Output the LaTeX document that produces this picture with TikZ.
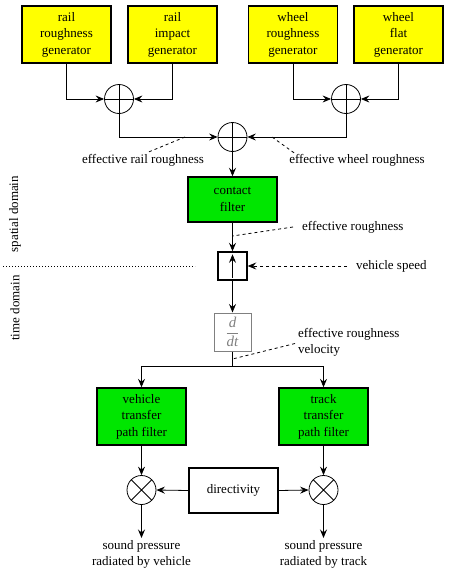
\documentclass[tikz,border=0pt]{standalone}
\usepackage{fontspec}
\setmainfont{Liberation Serif}
\usetikzlibrary{arrows.meta}
\definecolor{genyellow}{RGB}{255,255,0}
\definecolor{filtgreen}{RGB}{0,230,0}
\tikzset{
  genbox/.style={draw, line width=1.4pt, fill=genyellow, minimum width=89pt, minimum height=57pt, inner sep=0pt, align=center},
  filtbox/.style={genbox, fill=filtgreen},
  sumnode/.style={draw, circle, line width=0.8pt, minimum size=29pt, inner sep=0pt,
    path picture={\draw[line width=0.8pt] (path picture bounding box.north) -- (path picture bounding box.south) (path picture bounding box.west) -- (path picture bounding box.east);}},
  mulnode/.style={draw, circle, line width=0.8pt, minimum size=29pt, inner sep=0pt,
    path picture={\draw[line width=0.8pt] (path picture bounding box.north west) -- (path picture bounding box.south east) (path picture bounding box.south west) -- (path picture bounding box.north east);}},
  sig/.style={-{Stealth[length=8.5pt,width=7pt,inset=3pt]}, line width=0.8pt},
  pointer/.style={dashed, line width=0.8pt},
  label/.style={inner sep=0pt, align=center}
}
\begin{document}
\begin{tikzpicture}[x=1pt,y=-1pt,font=\fontsize{13}{16.5}\selectfont]
    \useasboundingbox (0,0) rectangle (463,570);
    
    % generators
    \node[genbox] (railrough) at (66.5,34.5) {rail\\roughness\\generator};
    \node[genbox] (railimp) at (172.5,34.5) {rail\\impact\\generator};
    \node[genbox] (wheelrough) at (293,34.5) {wheel\\roughness\\generator};
    \node[genbox] (wheelflat) at (398.5,34.5) {wheel\\flat\\generator};
    
    \node[sumnode] (sumrail) at (119,99) {};
    \node[sumnode] (sumwheel) at (346,99) {};
    \node[sumnode] (sumall) at (232.5,137) {};
    
    \draw[sig] (railrough.south) |- (sumrail.west);
    \draw[sig] (railimp.south) |- (sumrail.east);
    \draw[sig] (wheelrough.south) |- (sumwheel.west);
    \draw[sig] (wheelflat.south) |- (sumwheel.east);
    \draw[sig] (sumrail.south) |- (sumall.west);
    \draw[sig] (sumwheel.south) |- (sumall.east);
    
    \node[label] (effrail) at (143,160) {effective rail roughness};
    \node[label] (effwheel) at (357,160) {effective wheel roughness};
    \coordinate (ptrail) at (185,137);
    \coordinate (ptwheel) at (272,137);
    \draw[pointer] ([xshift=6pt,yshift=2pt]effrail.north) -- (ptrail);
    \draw[pointer] ([xshift=5pt,yshift=1pt]effwheel.north west) -- (ptwheel);
    
    % contact filter and speed
    \node[filtbox, minimum height=45pt] (contact) at (232.5,199.5) {contact\\filter};
    \node[draw, line width=1.4pt, minimum width=29pt, minimum height=28pt, inner sep=0pt] (speedbox) at (232.5,266) {};
    \draw[sig] (sumall) -- (contact);
    \draw[sig] (contact) -- (speedbox);
    \draw[sig] ([yshift=3pt]speedbox.south) -- ([yshift=-3pt]speedbox.north);
    
    \node[label, anchor=west] (effrough) at (302,227) {effective roughness};
    \coordinate (ptrough) at (232.5,236);
    \draw[pointer] ([xshift=-9pt]effrough.west) -- (ptrough);
    
    \node[label, anchor=west] (vspeed) at (356,266) {vehicle speed};
    \draw[sig, dashed] ([xshift=-9pt]vspeed.west) -- (speedbox.east);
    
    \draw[line width=0.8pt, dash pattern=on 1pt off 2pt] (3,266) -- (195,266);
    \node[rotate=90, inner sep=0pt] (spatial) at (15,214) {spatial domain};
    \node[rotate=90, inner sep=0pt] (timedom) at (15,308) {time domain};
    
    % derivative
    \node[draw=gray, line width=1pt, text=gray, minimum width=37pt, minimum height=38pt, inner sep=0pt, font=\fontsize{15}{17}\selectfont] (deriv) at (232.5,332) {$\displaystyle\frac{\textit{d}}{\textit{dt}}$};
    \draw[sig] (speedbox) -- (deriv);
    \coordinate (split) at (232.5,366);
    
    \node[label, anchor=west, align=left] (effvel) at (298,342.5) {effective roughness\\velocity};
    \coordinate (ptvel) at (232.5,359);
    \draw[pointer] ([xshift=-3pt,yshift=-1pt]effvel.west) -- (ptvel);
    
    % transfer paths
    \node[filtbox] (vehfilt) at (141.5,416.5) {vehicle\\transfer\\path filter};
    \node[filtbox] (trackfilt) at (323.5,416.5) {track\\transfer\\path filter};
    \draw[line width=0.8pt] (deriv.south) -- (split);
    \draw[sig] (split) -| (vehfilt.north);
    \draw[sig] (split) -| (trackfilt.north);
    
    \node[mulnode] (mulveh) at (141.5,490) {};
    \node[mulnode] (multrack) at (323.5,490) {};
    \node[draw, line width=1.4pt, fill=white, minimum width=89pt, minimum height=45pt, inner sep=0pt] (direct) at (233.5,490.5) {directivity};
    \draw[sig] (vehfilt) -- (mulveh);
    \draw[sig] (trackfilt) -- (multrack);
    \draw[sig] (direct.west) -- (mulveh.east);
    \draw[sig] (direct.east) -- (multrack.west);
    
    \node[label, anchor=north] (outveh) at (141.5,540) {sound pressure\\radiated by vehicle};
    \node[label, anchor=north] (outtrack) at (323.5,540) {sound pressure\\radiated by track};
    \draw[sig] (mulveh) -- ([yshift=2pt]outveh.north);
    \draw[sig] (multrack) -- ([yshift=2pt]outtrack.north);
    \end{tikzpicture}
\end{document}
